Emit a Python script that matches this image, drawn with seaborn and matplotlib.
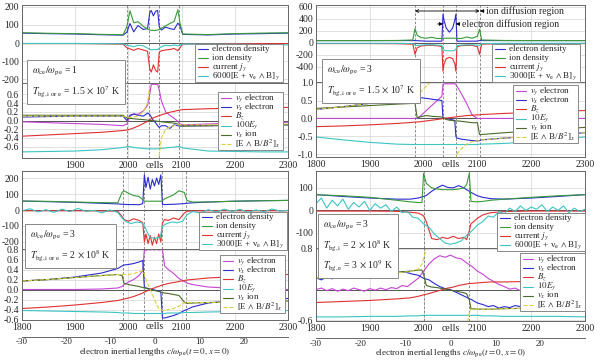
import numpy as np
import matplotlib
matplotlib.use("Agg")
import matplotlib.pyplot as plt
import matplotlib.transforms as mtransforms
from matplotlib.lines import Line2D
from matplotlib.patches import Rectangle
import seaborn as sns

nan = np.nan

# === top left: w_ce/w_pe = 1 ===
tl_x = [1800, 1850, 1900, 1950, 1990, 1997, 2003, 2010, 2018, 2028, 2036, 2040, 2043, 2047,
        2051, 2055, 2058, 2062, 2070, 2078, 2086, 2093, 2097, 2102, 2150, 2200, 2250, 2300]
tl_ne = [55, 52, 50, 46, 44, 60, 108, 62, 97, 75, 80, 165, 180, 150, 175, 180, 90, 72, 88, 80, 75, 110, 95, 48, 45, 50, 52, 55]
tl_ni = [57, 54, 52, 48, 46, 90, 178, 112, 118, 92, 78, 72, 70, 70, 70, 72, 75, 82, 95, 108, 120, 184, 110, 50, 47, 52, 55, 57]
tl_jy = [-3, -3, -3, -4, -6, -25, -32, -40, -30, -38, -45, -140, -160, -120, -150, -160, -50, -42, -38, -35, -30, -42, -25, -5, -4, -3, -3, -3]
tl_ohm = [-2, -2, -2, -3, -4, -12, -15, -20, -12, -15, -28, -35, -36, -36, -36, -35, -28, -20, -12, -15, -10, -15, -10, -5, -5, -6, -8, -10]
tl_vye = [-0.03, -0.05, -0.07, -0.09, -0.12, -0.08, 0.1, 0.15, 0.14, 0.22, 0.35, 0.6, 0.83, 0.83,
          0.83, 0.83, 0.7, 0.45, 0.2, 0.12, 0.05, -0.02, -0.08, -0.1, -0.08, -0.06, -0.05, -0.04]
tl_vxe = [0.08, 0.09, 0.1, 0.1, 0.1, 0.0, 0.12, 0.15, 0.12, 0.1, 0.17, 0.14, 0.08, 0.0,
          -0.05, -0.12, -0.16, -0.12, -0.12, -0.18, -0.1, -0.12, -0.13, -0.12, -0.12, -0.11, -0.1, -0.1]
tl_bz = [-0.36, -0.33, -0.3, -0.27, -0.23, -0.22, -0.2, -0.17, -0.13, -0.07, -0.02, 0.02, 0.04, 0.06,
         0.08, 0.1, 0.11, 0.13, 0.16, 0.19, 0.21, 0.23, 0.24, 0.25, 0.27, 0.28, 0.29, 0.3]
tl_ey = [-0.72, -0.71, -0.7, -0.67, -0.62, -0.6, -0.6, -0.62, -0.63, -0.64, -0.65, -0.65, -0.65, -0.65,
         -0.65, -0.65, -0.64, -0.64, -0.63, -0.62, -0.61, -0.6, -0.6, -0.63, -0.7, -0.71, -0.72, -0.72]
tl_vxi = [0.12, 0.12, 0.12, 0.12, 0.12, 0.06, 0.05, 0.04, 0.03, 0.02, 0.01, 0.0, 0.0, -0.01,
          -0.01, -0.02, -0.02, -0.03, -0.04, -0.05, -0.06, -0.08, -0.12, -0.13, -0.12, -0.11, -0.1, -0.1]
tl_exb = [0.1, 0.1, 0.1, 0.1, 0.1, 0.08, 0.07, 0.08, 0.1, 0.2, 0.4, 0.8, 1.5, nan,
          nan, -1.5, -0.8, -0.4, -0.2, -0.15, -0.12, -0.1, -0.1, -0.1, -0.1, -0.09, -0.08, -0.08]
tl_dash = [1998, 2038, 2057, 2095]

# === top right: w_ce/w_pe = 3, T = 1.5e7 K ===
tr_x = [1800, 1850, 1900, 1950, 1980, 1984, 1988, 1995, 2005, 2015, 2025, 2034, 2036, 2038, 2042,
        2048, 2054, 2058, 2060, 2062, 2070, 2080, 2090, 2100, 2104, 2108, 2150, 2200, 2250, 2300]
tr_ne = [40, 40, 40, 40, 40, 40, 38, 35, 30, 30, 30, 30, 480, 380, 250,
         180, 250, 380, 480, 30, 30, 30, 30, 32, 40, 40, 40, 40, 40, 40]
tr_ni = [40, 40, 40, 42, 50, 240, 130, 90, 80, 95, 75, 75, 80, 80, 80,
         80, 80, 80, 80, 75, 75, 100, 80, 110, 230, 50, 42, 40, 40, 40]
tr_jy = [-10, -10, -10, -12, -20, -190, -80, -50, -40, -40, -45, -60, -470, -350, -260,
         -240, -260, -350, -470, -60, -45, -40, -40, -60, -190, -20, -12, -10, -10, -10]
tr_ohm = [-5, -5, -5, -5, -10, -40, -40, -35, -30, -30, -35, -40, -110, -120, -130,
          -130, -130, -120, -110, -40, -35, -30, -30, -35, -40, -10, -5, -5, -5, -5]
tr_vye = [0, 0, 0, 0, 0, 0, 0, 0.08, 0.22, 0.36, 0.5, 0.62, 0.95, 0.97, 0.97,
          0.97, 0.97, 0.97, 0.95, 0.9, 0.7, 0.42, 0.1, 0.0, 0, 0, 0, 0, 0, 0]
tr_vxe = [0.25, 0.33, 0.42, 0.52, 0.58, 0.6, 0.6, 0.58, 0.56, 0.54, 0.52, 0.5, 0.02, 0.01, 0.0,
          -0.02, -0.04, -0.06, -0.5, -0.55, -0.58, -0.6, -0.62, -0.63, -0.62, -0.6, -0.55, -0.5, -0.45, -0.4]
tr_bz = [-0.23, -0.21, -0.18, -0.14, -0.11, -0.1, -0.1, -0.09, -0.07, -0.05, -0.03, -0.01, 0.0, 0.0, 0.01,
         0.02, 0.03, 0.04, 0.04, 0.05, 0.06, 0.08, 0.09, 0.1, 0.1, 0.11, 0.14, 0.17, 0.2, 0.22]
tr_ey = [-0.52, -0.6, -0.67, -0.72, -0.73, -0.73, -0.73, -0.73, -0.73, -0.73, -0.73, -0.73, -0.73, -0.73, -0.73,
         -0.73, -0.73, -0.73, -0.73, -0.73, -0.73, -0.73, -0.73, -0.73, -0.72, -0.72, -0.7, -0.65, -0.58, -0.52]
tr_vxi = [0.28, 0.32, 0.36, 0.4, 0.42, 0.43, 0.02, 0.05, 0.08, 0.06, 0.05, 0.04, 0.02, 0.0, -0.03,
          -0.05, -0.06, -0.07, -0.07, -0.07, -0.08, -0.1, -0.12, -0.12, -0.45, -0.45, -0.4, -0.35, -0.3, -0.25]
tr_exb = [0.25, 0.33, 0.42, 0.52, 0.58, 0.6, 0.65, 0.75, 0.9, 1.05, 1.4, 2.0, nan, nan, nan,
          nan, nan, -1.5, -1.15, -1.0, -0.85, -0.72, -0.65, -0.63, -0.62, -0.6, -0.55, -0.5, -0.45, -0.4]
tr_dash = [1984, 2036, 2060, 2104]

# === bottom left: w_ce/w_pe = 3, T = 2e8 K ===
bl_x = [1800, 1850, 1900, 1950, 1980, 1988, 1992, 2000, 2010, 2020, 2027, 2030, 2033, 2037, 2041, 2045,
        2049, 2053, 2057, 2061, 2064, 2068, 2075, 2085, 2095, 2105, 2110, 2120, 2150, 2200, 2250, 2300]
bl_ne = [56, 52, 48, 42, 38, 36, 35, 34, 34, 33, 40, 220, 140, 205, 130, 190,
         150, 200, 160, 220, 35, 34, 35, 36, 38, 40, 42, 45, 50, 55, 58, 60]
bl_ni = [56, 54, 50, 46, 45, 110, 120, 105, 90, 85, 65, 55, 55, 55, 55, 55,
         55, 55, 55, 55, 58, 70, 80, 95, 120, 110, 60, 50, 50, 55, 58, 60]
bl_jy = [-5, -5, -5, -6, -8, -40, -60, -70, -55, -65, -80, -200, -150, -210, -160, -220,
         -170, -210, -150, -200, -80, -60, -65, -50, -60, -20, -8, -6, -5, -5, -5, -5]
bl_ohm_x = [1800, 1815, 1830, 1845, 1860, 1875, 1890, 1905, 1920, 1935, 1950, 1965, 1980, 1988, 1995,
            2005, 2015, 2025, 2030, 2040, 2050, 2060, 2064, 2072, 2082, 2092, 2102, 2110, 2120,
            2135, 2150, 2165, 2180, 2195, 2210, 2225, 2240, 2255, 2270, 2285, 2300]
bl_ohm = [-5, 8, -12, 2, -15, 5, -10, 10, -8, -2, -18, 0, -15, -50, -72,
          -85, -75, -80, -100, -170, -178, -168, -100, -85, -75, -80, -70, -30, -10,
          -18, 2, -12, 5, -8, 4, -14, 0, -10, 6, -6, -2]
bl_vye = [0.0, 0.0, 0.0, 0.01, 0.03, 0.06, 0.1, 0.15, 0.2, 0.28, 0.38, 0.8, 0.78, 0.81, 0.79, 0.81,
          0.79, 0.81, 0.79, 0.8, 0.8, 0.47, 0.4, 0.32, 0.22, 0.16, 0.13, 0.1, 0.05, 0.02, 0.01, 0.0]
bl_vxe = [0.17, 0.2, 0.25, 0.33, 0.42, 0.47, 0.49, 0.5, 0.52, 0.55, 0.58, 0.05, 0.03, 0.02, 0.01, 0.0,
          -0.01, -0.02, -0.03, -0.05, -0.57, -0.57, -0.55, -0.52, -0.48, -0.42, -0.4, -0.35, -0.27, -0.22, -0.2, -0.18]
bl_bz = [-0.38, -0.35, -0.31, -0.26, -0.22, -0.2, -0.19, -0.17, -0.14, -0.1, -0.07, -0.05, -0.04, -0.02, 0.0, 0.02,
         0.03, 0.05, 0.06, 0.08, 0.09, 0.1, 0.12, 0.14, 0.16, 0.18, 0.19, 0.2, 0.23, 0.26, 0.28, 0.3]
bl_ey = [-0.42, -0.43, -0.44, -0.45, -0.46, -0.47, -0.47, -0.47, -0.48, -0.48, -0.48, -0.48, -0.48, -0.48, -0.48, -0.48,
         -0.48, -0.48, -0.48, -0.48, -0.48, -0.48, -0.47, -0.47, -0.47, -0.46, -0.46, -0.46, -0.45, -0.44, -0.43, -0.42]
bl_vxi = [0.17, 0.2, 0.24, 0.28, 0.3, 0.28, 0.12, 0.1, 0.08, 0.06, 0.04, 0.03, 0.03, 0.01, 0.0, -0.01,
          -0.02, -0.03, -0.04, -0.05, -0.06, -0.07, -0.08, -0.1, -0.12, -0.25, -0.28, -0.27, -0.26, -0.25, -0.24, -0.23]
bl_exb = [0.17, 0.2, 0.24, 0.28, 0.3, 0.3, 0.3, 0.3, 0.32, 0.35, 0.38, 0.3, 0.2, 0.1, 0.0, -0.1,
          -0.2, -0.3, -0.38, -0.4, -0.42, -0.42, -0.4, -0.38, -0.33, -0.27, -0.27, -0.26, -0.26, -0.25, -0.24, -0.23]
bl_dash = [1990, 2029, 2064, 2108]

# === bottom right: w_ce/w_pe = 3, T_i = 2e8 K, T_e = 3e9 K ===
br_x = [1800, 1850, 1900, 1950, 1975, 1990, 1997, 2000, 2005, 2015, 2025, 2035, 2045,
        2055, 2065, 2075, 2080, 2085, 2088, 2100, 2110, 2125, 2150, 2200, 2250, 2300]
br_ne = [70, 62, 55, 50, 50, 55, 60, 62, 66, 85, 100, 112, 102, 100, 110, 100, 92, 85, 80, 65, 58, 52, 50, 55, 62, 70]
br_ni = [70, 65, 58, 45, 38, 35, 35, 165, 120, 100, 95, 92, 92, 92, 95, 100, 115, 165, 40, 38, 40, 45, 50, 58, 65, 70]
br_jy = [-3, -3, -3, -4, -8, -12, -20, -25, -50, -125, -130, -120, -125, -115, -125, -120, -130, -90, -60, -35, -20, -10, -5, -3, -3, -3]
br_fine_x = [1800, 1810, 1820, 1830, 1840, 1850, 1860, 1870, 1880, 1890, 1900, 1910, 1920, 1930, 1940, 1950,
             1960, 1970, 1980, 1990, 2000, 2010, 2020, 2030, 2040, 2050, 2060, 2070, 2080, 2090, 2100,
             2110, 2120, 2130, 2140, 2150, 2160, 2170, 2180, 2190, 2200, 2210, 2220, 2230, 2240, 2250,
             2260, 2270, 2280, 2290, 2300]
br_ohm = [30, 55, 10, 45, 20, 50, 5, 35, 15, 40, 0, 30, 10, 25, -5, 15,
          -10, -5, -30, -35, -60, -75, -105, -125, -145, -150, -145, -135, -110, -90, -65,
          -50, -25, -30, -5, -15, 10, -5, 20, 0, 15, 5, 25, -5, 15, 0,
          20, -10, 10, -5, 5]
br_vye = [0.0, 0.03, -0.02, 0.02, -0.03, 0.01, -0.02, 0.03, 0.0, -0.03, 0.02, -0.01, 0.03, 0.0, 0.04, 0.02,
          0.08, 0.06, 0.14, 0.22, 0.36, 0.5, 0.6, 0.66, 0.63, 0.67, 0.62, 0.6, 0.52, 0.45, 0.36,
          0.3, 0.22, 0.16, 0.1, 0.06, 0.01, 0.03, -0.02, 0.02, -0.01, 0.02, -0.02, 0.01, -0.02, 0.02,
          -0.01, 0.02, -0.02, 0.01, 0.0]
br_vxe = [0.23, 0.19, 0.25, 0.21, 0.27, 0.24, 0.28, 0.25, 0.3, 0.27, 0.31, 0.28, 0.33, 0.3, 0.34, 0.32,
          0.35, 0.33, 0.3, 0.28, 0.22, 0.19, 0.12, 0.06, 0.02, 0.0, -0.05, -0.1, -0.15, -0.2, -0.26,
          -0.29, -0.33, -0.31, -0.36, -0.33, -0.35, -0.31, -0.33, -0.29, -0.3, -0.26, -0.28, -0.24, -0.26, -0.22,
          -0.24, -0.2, -0.22, -0.18, -0.2]
br_bz = [-0.25, -0.23, -0.21, -0.18, -0.16, -0.13, -0.11, -0.1, -0.09, -0.06, -0.03, 0.0, 0.03,
         0.05, 0.08, 0.1, 0.11, 0.12, 0.12, 0.13, 0.14, 0.15, 0.15, 0.16, 0.16, 0.16]
br_ey = [-0.53, -0.53, -0.52, -0.52, -0.51, -0.51, -0.5, -0.5, -0.5, -0.5, -0.5, -0.5, -0.5,
         -0.5, -0.5, -0.5, -0.5, -0.5, -0.5, -0.5, -0.51, -0.51, -0.52, -0.52, -0.52, -0.53]
br_vxi = [0.22, 0.26, 0.3, 0.34, 0.36, 0.38, 0.38, 0.3, 0.08, 0.05, 0.04, 0.02, 0.0,
          -0.02, -0.04, -0.06, -0.08, -0.2, -0.37, -0.38, -0.38, -0.38, -0.37, -0.36, -0.35, -0.34]
br_exb = [0.23, 0.26, 0.29, 0.33, 0.35, 0.4, 0.5, 0.6, 0.8, 1.2, nan, nan, nan,
          nan, nan, -1.2, -0.7, -0.45, -0.38, -0.38, -0.38, -0.38, -0.37, -0.36, -0.35, -0.34]
br_dash = [2001, 2085]

# === colours ===
c_blue = "#2b2bd0"
c_green = "#3a9a3a"
c_red = "#e03030"
c_cyan = "#3cc4c4"
c_mag = "#c545d5"
c_olive = "#4a6a2a"
c_yel = "#d8d040"

sns.set_style("white")
plt.rcParams["font.family"] = ["Liberation Serif", "DejaVu Serif"]
plt.rcParams["mathtext.fontset"] = "stix"
plt.rcParams["font.size"] = 7
plt.rcParams["axes.unicode_minus"] = False

W, H = 600, 360
fig = plt.figure(figsize=(6, 3.6), dpi=100)
rend = fig.canvas.get_renderer()


def px_axes(x0, y0, x1, y1):
    return fig.add_axes([x0 / W, 1 - y1 / H, (x1 - x0) / W, (y1 - y0) / H])


def fx(px):
    return px / W


def fy(py):
    return 1 - py / H


def draw(ax, xs, ys, color, label, ls="-"):
    # a series is either y values on the panel grid, or its own (x, y) pair
    if isinstance(ys, tuple):
        xs, ys = ys
    xs = np.asarray(xs, float)
    ys = np.asarray(ys, float)
    idx = np.flatnonzero(~np.isnan(ys))
    runs = np.split(idx, np.flatnonzero(np.diff(idx) > 1) + 1)
    for k, r in enumerate(runs):
        sns.lineplot(x=xs[r], y=ys[r], ax=ax, color=color, lw=0.8, ls=ls,
                     label=label if k == 0 else "_nolegend_")


def style(ax, ylim, yticks, dash):
    ax.set_xlim(1800, 2300)
    ax.set_ylim(*ylim)
    ax.set_yticks(yticks)
    ax.set_xticks([1800, 1900, 2000, 2100, 2200, 2300])
    ax.grid(True, color="#d4d4d4", lw=0.5)
    ax.axhline(0, color="#555555", lw=0.7, zorder=1)
    for d in dash:
        ax.axvline(d, color="#777777", lw=0.6, ls=(0, (3, 2)), zorder=1)
    for s in ax.spines.values():
        s.set_color("#666666")
        s.set_linewidth(0.7)
    ax.tick_params(labelsize=7, length=0, pad=2)
    ax.set_xlabel("")
    ax.set_ylabel("")


def legend(ax, ur, row):
    # compact legend box, rows at a fixed pitch like the original
    handles, labels = ax.get_legend_handles_labels()
    if ax.get_legend() is not None:
        ax.get_legend().remove()
    texts = [fig.text(0, 0, lab, fontsize=6.5, va="center", ha="left", zorder=12) for lab in labels]
    wmax = max(t.get_window_extent(rend).width for t in texts)
    pad, hl, gap = 3, 10, 4
    x_r = ur[0]
    x_l = x_r - pad - wmax - gap - hl - pad
    h = len(labels) * row + 2
    fig.add_artist(Rectangle((fx(x_l), fy(ur[1] + h)), (x_r - x_l) / W, h / H,
                             transform=fig.transFigure, fc="white", ec="#888888", lw=0.7, zorder=11))
    for i, (hd, t) in enumerate(zip(handles, texts)):
        yc = ur[1] + 1 + row * (i + 0.5)
        fig.add_artist(Line2D([fx(x_l + pad), fx(x_l + pad + hl)], [fy(yc), fy(yc)],
                              transform=fig.transFigure, color=hd.get_color(), lw=0.8,
                              ls=hd.get_linestyle(), zorder=12))
        t.set_position((fx(x_l + pad + hl + gap), fy(yc)))


def panel(box, xs, top, bot, top_lim, top_ticks, bot_lim, bot_ticks, dash,
          leg_t, leg_b, ohm_lbl, ey_lbl, xlabels, note, note_pos, inertial=False):
    x0, y0, ym, x1, y1 = box
    ax_t = px_axes(x0, y0, x1, ym)
    ax_b = px_axes(x0, ym, x1, y1)

    ne, ni, jy, ohm = top
    draw(ax_t, xs, ne, c_blue, "electron density")
    draw(ax_t, xs, ni, c_green, "ion density")
    draw(ax_t, xs, jy, c_red, r"current $j_y$")
    draw(ax_t, xs, ohm, c_cyan, ohm_lbl)

    vye, vxe, bz, ey, vxi, exb = bot
    draw(ax_b, xs, vye, c_mag, r"$v_y$ electron")
    draw(ax_b, xs, vxe, c_blue, r"$v_x$ electron")
    draw(ax_b, xs, bz, c_red, r"$B_z$")
    draw(ax_b, xs, ey, c_cyan, ey_lbl)
    draw(ax_b, xs, vxi, c_olive, r"$v_x$ ion")
    draw(ax_b, xs, exb, c_yel, r"[E $\wedge$ B/$B^2$]$_x$", ls="--")

    style(ax_t, top_lim, top_ticks, dash)
    style(ax_b, bot_lim, bot_ticks, dash)
    ax_t.set_xticklabels([])
    ax_b.set_xticklabels(xlabels)
    tr = mtransforms.blended_transform_factory(ax_b.transData, ax_b.transAxes)
    ax_b.text(2050, -0.035, "cells", transform=tr, ha="center", va="top", fontsize=7)

    legend(ax_t, leg_t, 8.9)
    legend(ax_b, leg_b, 9.3)

    fig.text(fx(note_pos[0]), fy(note_pos[1]), note, ha="left", va="center",
             fontsize=7, linespacing=1.5, zorder=10,
             bbox=dict(boxstyle="square,pad=0.5", fc="white", ec="#888888", lw=0.7))

    if inertial:
        sec = ax_b.secondary_xaxis(-0.235, functions=(lambda c: (c - 2050) / 8.33,
                                                      lambda u: u * 8.33 + 2050))
        sec.set_xticks([-30, -20, -10, 0, 10, 20])
        sec.tick_params(labelsize=6.5, length=0, pad=1)
        sec.spines["bottom"].set_color("#666666")
        sec.spines["bottom"].set_linewidth(0.7)
        sec.set_xlabel(r"electron inertial lengths $c/\omega_{\rm pe}(t=0,\, x=0)$",
                       fontsize=6.5, labelpad=0)
    return ax_t, ax_b


lab_full = ["1800", "1900", "2000", "2100", "2200", "2300"]
lab_no1800 = ["", "1900", "2000", "2100", "2200", "2300"]
wr = r"$\omega_{\rm ce}/\omega_{\rm pe}$"

# === draw the four panels ===
panel((22, 5, 83, 288, 158), tl_x,
      (tl_ne, tl_ni, tl_jy, tl_ohm), (tl_vye, tl_vxe, tl_bz, tl_ey, tl_vxi, tl_exb),
      (-220, 210), [-200, -100, 0, 100, 200], (-0.86, 0.86), [-0.6, -0.4, -0.2, 0.0, 0.2, 0.4, 0.6],
      tl_dash, (283, 44), (283, 92),
      r"6000[E + v$_{\rm e}$ $\wedge$ B]$_y$", r"$100E_y$", lab_no1800,
      wr + " = 1\n" + r"$T_{\rm bg,i\ or\ e}$ = 1.5 $\times$ 10$^7$ K", (32, 82))

ax_t, ax_b = panel((316, 5, 82, 585, 157), tr_x,
                   (tr_ne, tr_ni, tr_jy, tr_ohm), (tr_vye, tr_vxe, tr_bz, tr_ey, tr_vxi, tr_exb),
                   (-650, 633), [-400, -200, 0, 200, 400, 600], (-1.08, 1.02), [-1.0, -0.5, 0.0, 0.5, 1.0],
                   tr_dash, (580, 44), (578, 85),
                   r"3000[E + v$_{\rm e}$ $\wedge$ B]$_y$", r"$10E_y$", lab_full,
                   wr + " = 3\n" + r"$T_{\rm bg,i\ or\ e}$ = 1.5 $\times$ 10$^7$ K", (327, 81))

# diffusion region markers
arr = dict(arrowstyle="<->", color="k", lw=0.6, shrinkA=0, shrinkB=0, mutation_scale=5)
ax_t.annotate("", xy=(1984, 533), xytext=(2104, 533), arrowprops=arr)
ax_t.annotate("ion diffusion region", xy=(2105, 533), xytext=(2116, 533), va="center", fontsize=7,
              arrowprops=dict(arrowstyle="-|>", color="k", lw=0.6, shrinkA=1, shrinkB=0, mutation_scale=5))
one = dict(arrowstyle="-|>", color="k", lw=0.6, shrinkA=0, shrinkB=0, mutation_scale=5)
ax_t.annotate("", xy=(2036, 317), xytext=(2026, 317), arrowprops=one)
ax_t.annotate("electron diffusion region", xy=(2060, 317), xytext=(2072, 317), va="center", fontsize=7,
              arrowprops=dict(one, shrinkA=1))

panel((22, 171, 249, 288, 320), bl_x,
      (bl_ne, bl_ni, bl_jy, (bl_ohm_x, bl_ohm)), (bl_vye, bl_vxe, bl_bz, bl_ey, bl_vxi, bl_exb),
      (-244, 244), [-200, -100, 0, 100, 200], (-0.61, 0.81), [-0.6, -0.4, -0.2, 0.0, 0.2, 0.4, 0.6, 0.8],
      bl_dash, (287, 212), (285, 255),
      r"3000[E + v$_{\rm e}$ $\wedge$ B]$_y$", r"$10E_y$", lab_full,
      wr + " = 3\n" + r"$T_{\rm bg,i\ or\ e}$ = 2 $\times$ 10$^8$ K", (30, 246), inertial=True)

panel((316, 171, 248, 585, 321), br_x,
      (br_ne, br_ni, br_jy, (br_fine_x, br_ohm)),
      ((br_fine_x, br_vye), (br_fine_x, br_vxe), br_bz, br_ey, br_vxi, br_exb),
      (-167, 175), [-100, 0, 100], (-0.61, 0.81), [-0.6, 0.8],
      br_dash, (585, 213), (585, 253),
      r"6000[E + v$_{\rm e}$ $\wedge$ B]$_y$", r"$10E_y$", lab_full,
      wr + " = 3\n" + r"$T_{\rm bg,i}$ = 2 $\times$ 10$^8$ K" + "\n" + r"$T_{\rm bg,e}$ = 3 $\times$ 10$^9$ K",
      (323, 246), inertial=True)

fig.savefig("out.png", dpi=100)
